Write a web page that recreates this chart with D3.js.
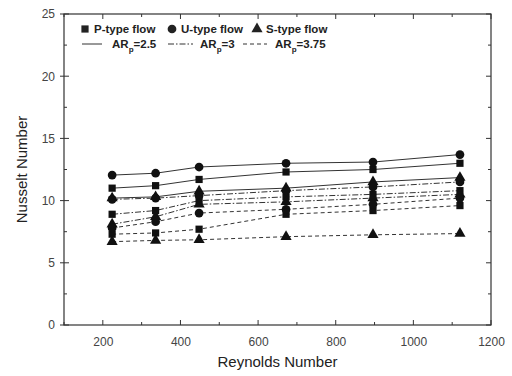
<!DOCTYPE html>
<html><head><meta charset="utf-8">
<script src="https://cdn.jsdelivr.net/npm/d3@7"></script>
<style>body{margin:0;background:#fff}svg{display:block;font-family:"Liberation Sans",Arial,sans-serif}</style>
</head><body><svg id="c" width="512" height="376"></svg>
<script>
const reynolds = [224, 336, 448, 672, 896, 1120];
const P_2_5  = [11.0, 11.2, 11.7, 12.3, 12.5, 13.0];
const U_2_5  = [12.05, 12.2, 12.7, 13.0, 13.1, 13.7];
const S_2_5  = [10.2, 10.3, 10.75, 11.0, 11.5, 11.85];
const P_3    = [8.9, 9.2, 10.0, 10.3, 10.5, 10.8];
const U_3    = [10.1, 10.2, 10.4, 10.8, 11.1, 11.5];
const S_3    = [8.1, 8.7, 9.7, 9.9, 10.2, 10.5];
const P_3_75 = [7.3, 7.4, 7.7, 8.9, 9.2, 9.6];
const U_3_75 = [7.8, 8.3, 9.0, 9.3, 9.7, 10.2];
const S_3_75 = [6.7, 6.8, 6.85, 7.1, 7.25, 7.35];
const xTicks = [200, 400, 600, 800, 1000, 1200];
const yTicks = [0, 5, 10, 15, 20, 25];
const flowTypes = ["P-type flow", "U-type flow", "S-type flow"];
const arLabels = ["2.5", "3", "3.75"];

const series = [
  {flow:0, ar:0, v:P_2_5}, {flow:1, ar:0, v:U_2_5}, {flow:2, ar:0, v:S_2_5},
  {flow:0, ar:1, v:P_3},   {flow:1, ar:1, v:U_3},   {flow:2, ar:1, v:S_3},
  {flow:0, ar:2, v:P_3_75},{flow:1, ar:2, v:U_3_75},{flow:2, ar:2, v:S_3_75}
];
const dashes = [null, "6,2,1.5,2", "4,3"];
const symbols = [d3.symbolSquare, d3.symbolCircle, d3.symbolTriangle];
const symSize = [52, 60, 54];

const svg = d3.select("#c");
const L=64, R=491, T=14, B=325;
const x = d3.scaleLinear().domain([100,1200]).range([L,R]);
const y = d3.scaleLinear().domain([0,25]).range([B,T]);

svg.append("rect").attr("x",L).attr("y",T).attr("width",R-L).attr("height",B-T)
  .attr("fill","none").attr("stroke","#333").attr("stroke-width",1.2);

const minorX = d3.range(100,1201,100);
const minorY = d3.range(0,25.1,2.5);
const gx = svg.append("g").attr("transform",`translate(0,${B})`)
  .call(d3.axisBottom(x).tickValues(xTicks).tickFormat(d3.format("d")).tickSize(0).tickPadding(12));
gx.select(".domain").remove();
gx.selectAll("text").attr("font-size",12).attr("fill","#444");
const tk = svg.append("g").attr("stroke","#333").attr("stroke-width",1);
minorX.forEach(v=>{
  const len = xTicks.includes(v)?5:3;
  tk.append("line").attr("x1",x(v)).attr("x2",x(v)).attr("y1",B).attr("y2",B-len);
  tk.append("line").attr("x1",x(v)).attr("x2",x(v)).attr("y1",T).attr("y2",T+len);
});
minorY.forEach(v=>{
  const maj = yTicks.includes(v);
  const len = maj?5:3;
  tk.append("line").attr("x1",L-(maj?4:0)).attr("x2",L+len).attr("y1",y(v)).attr("y2",y(v));
  tk.append("line").attr("x1",R).attr("x2",R-len).attr("y1",y(v)).attr("y2",y(v));
});
const gy = svg.append("g").attr("transform",`translate(${L},0)`)
  .call(d3.axisLeft(y).tickValues(yTicks).tickSize(0).tickPadding(9));
gy.select(".domain").remove();
gy.selectAll("text").attr("font-size",12).attr("fill","#444");

svg.append("text").attr("x",(L+R)/2).attr("y",367).attr("text-anchor","middle")
  .attr("font-size",15).attr("fill","#222").text("Reynolds Number");
svg.append("text").attr("transform",`translate(27,${(T+B)/2}) rotate(-90)`).attr("text-anchor","middle")
  .attr("font-size",15).attr("fill","#222").text("Nusselt Number");

const line = d3.line().x((d,i)=>x(reynolds[i])).y(d=>y(d));
series.forEach(s=>{
  svg.append("path").attr("d",line(s.v)).attr("fill","none").attr("stroke","#333")
    .attr("stroke-width",1).attr("stroke-dasharray",dashes[s.ar]);
});
series.forEach(s=>{
  svg.append("g").selectAll("path").data(s.v).join("path")
    .attr("transform",(d,i)=>`translate(${x(reynolds[i])},${y(d)})`)
    .attr("d",d3.symbol(symbols[s.flow],symSize[s.flow])).attr("fill","#111");
});

const lg = svg.append("g").attr("font-size",11.5).attr("font-weight","bold").attr("fill","#222");
const fx = [85,172,257];
flowTypes.forEach((t,i)=>{
  lg.append("path").attr("transform",`translate(${fx[i]},29)`).attr("d",d3.symbol(symbols[i],symSize[i])());
  lg.append("text").attr("x",fx[i]+9).attr("y",33).text(t);
});
const lx = [[82,102],[168,193],[243,267]];
const tx = [112,200,275];
arLabels.forEach((a,i)=>{
  svg.append("line").attr("x1",lx[i][0]).attr("x2",lx[i][1]).attr("y1",44).attr("y2",44)
    .attr("stroke","#333").attr("stroke-width",1).attr("stroke-dasharray",dashes[i]);
  const t = lg.append("text").attr("x",tx[i]).attr("y",48);
  t.append("tspan").text("AR");
  t.append("tspan").attr("dy",4).attr("font-size",8).text("p");
  t.append("tspan").attr("dy",-4).text("="+a);
});
</script></body></html>
